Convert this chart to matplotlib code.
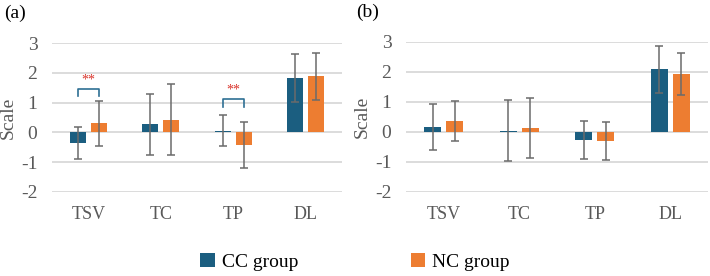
import matplotlib.pyplot as plt
import numpy as np

# values
categories = ["TSV", "TC", "TP", "DL"]
a_cc = [-0.35, 0.27, 0.06, 1.82]
a_cc_err = [0.53, 1.03, 0.52, 0.81]
a_nc = [0.30, 0.43, -0.42, 1.88]
a_nc_err = [0.75, 1.19, 0.76, 0.79]
b_cc = [0.16, 0.05, -0.27, 2.09]
b_cc_err = [0.77, 1.02, 0.63, 0.79]
b_nc = [0.37, 0.13, -0.30, 1.93]
b_nc_err = [0.68, 1.01, 0.63, 0.70]
# significance brackets for panel (a): category index, bracket top, leg bottom
sig_idx = [0, 2]
sig_top = [1.45, 1.11]
sig_leg = [1.22, 0.86]

CC_COLOR = "#1b5e80"
NC_COLOR = "#ed7d31"
TEXT = "#595959"

plt.rcParams["font.family"] = ["Liberation Serif", "DejaVu Serif"]
plt.rcParams["axes.unicode_minus"] = False

fig = plt.figure(figsize=(7.1, 2.76), dpi=100)
ax_a = fig.add_axes([52 / 710, 1 - 192 / 276, 290 / 710, 149 / 276])
ax_b = fig.add_axes([406 / 710, 1 - 192 / 276, 302 / 710, 150 / 276])

x = np.arange(len(categories))
w = 0.22
off = 0.145


def draw(ax, cc, cc_err, nc, nc_err, tag):
    err_kw = dict(ecolor="#6b6b6b", elinewidth=1.1, capsize=3, capthick=1.1)
    ax.bar(x - off, cc, w, yerr=cc_err, color=CC_COLOR,
           error_kw=err_kw, label="CC group", zorder=3)
    ax.bar(x + off, nc, w, yerr=nc_err, color=NC_COLOR,
           error_kw=err_kw, label="NC group", zorder=3)
    ax.set_xlim(-0.5, len(categories) - 0.5)
    ax.set_ylim(-2, 3)
    ax.set_yticks(range(-2, 4))
    ax.set_xticks(x)
    ax.set_xticklabels(categories)
    ax.grid(axis="y", color="#dcdcdc", linewidth=1.4, zorder=0)
    ax.set_axisbelow(True)
    for s in ax.spines.values():
        s.set_visible(False)
    ax.tick_params(axis="both", length=0, colors=TEXT, labelsize=13)
    ax.tick_params(axis="y", pad=10.5, labelsize=14)
    ax.tick_params(axis="x", pad=10)
    ax.set_ylabel("Scale", color=TEXT, fontsize=14, labelpad=3)
    ax.text(-0.165, 1.2, tag, transform=ax.transAxes, fontsize=14, color="black",
            ha="left", va="center")


draw(ax_a, a_cc, a_cc_err, a_nc, a_nc_err, "(a)")
draw(ax_b, b_cc, b_cc_err, b_nc, b_nc_err, "(b)")

for i, top, leg in zip(sig_idx, sig_top, sig_leg):
    ax_a.plot([i - off, i - off, i + off, i + off], [leg, top, top, leg],
              color="#2e6f93", linewidth=1.2, zorder=4)
    ax_a.text(i, top + 0.32, "**", color="#d9342b", fontsize=10,
              ha="center", va="center")

handles, labels = ax_a.get_legend_handles_labels()
fig.legend(handles, labels, loc="center", bbox_to_anchor=(0.5, 0.05), ncol=2,
           frameon=False, fontsize=14, handlelength=0.75, handleheight=0.75,
           handletextpad=0.35, columnspacing=5.8, labelcolor="black")

fig.savefig("out.png", dpi=100)
